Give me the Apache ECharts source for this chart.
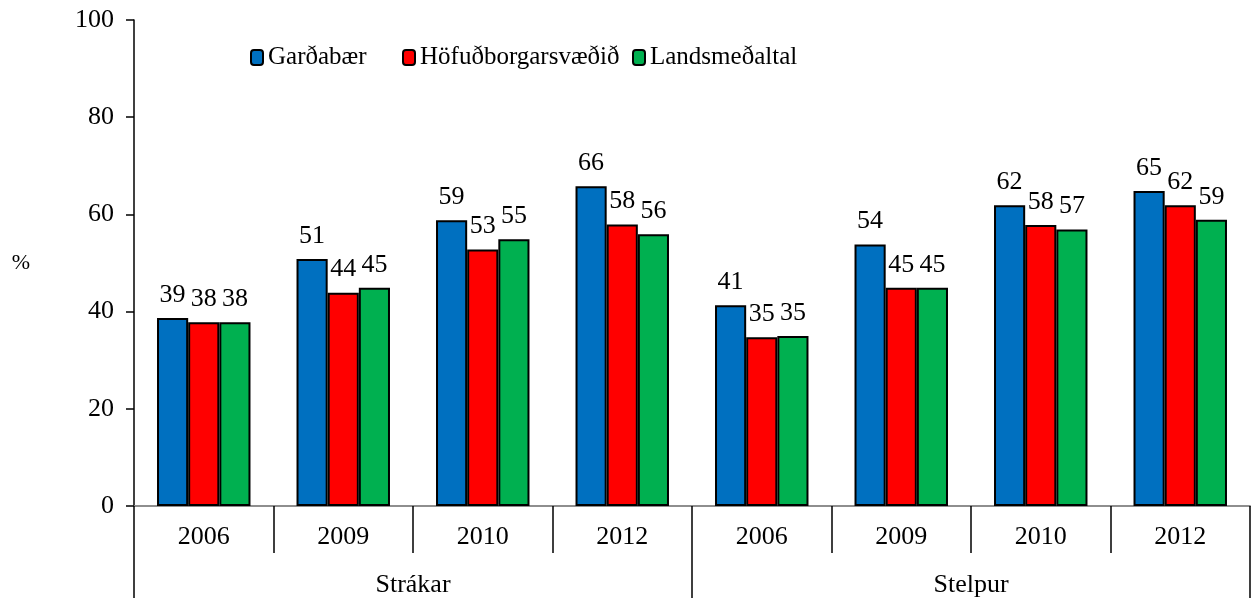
<!DOCTYPE html>
<html lang="is">
<head>
    <meta charset="UTF-8">
    <title>Garðabær</title>
    <script src="https://cdn.jsdelivr.net/npm/echarts@6/dist/echarts.min.js"></script>
</head>
<body style="margin:0">
<div id="main" style="width: 1256px;height:598px;"></div>

<script type="text/javascript">
    // gögn lesin af myndinni
    var years = ['2006', '2009', '2010', '2012', '2006', '2009', '2010', '2012'];
    var groups = ['Strákar', 'Stelpur'];
    var seriesNames = ['Garðabær', 'Höfuðborgarsvæðið', 'Landsmeðaltal'];
    var gardabaer = [38.7, 50.8, 58.8, 65.8, 41.3, 53.8, 61.9, 64.8];
    var hofudborg = [37.8, 43.9, 52.8, 57.9, 34.7, 44.9, 57.8, 61.9];
    var landsmedal = [37.8, 44.9, 54.9, 55.9, 35.0, 44.9, 56.9, 58.9];
    var colors = ['#0070C0', '#FF0000', '#00B050'];

    var font = 'Liberation Serif';
    var myChart = echarts.init(document.getElementById('main'));

    function bar(name, data, color) {
        return {
            name: name,
            type: 'bar',
            data: data,
            barGap: '0%',
            barCategoryGap: '33%',
            itemStyle: {color: color, borderColor: '#000', borderWidth: 2},
            label: {
                show: true,
                position: 'top',
                distance: 10,
                fontFamily: font,
                fontSize: 26,
                color: '#000',
                formatter: function (p) {
                    return Math.round(p.value);
                }
            }
        };
    }

    function legendAt(name, left) {
        return {
            data: [name],
            left: left,
            top: 40,
            itemWidth: 12,
            itemHeight: 15,
            selectedMode: false,
            textStyle: {fontFamily: font, fontSize: 25, color: '#000'}
        };
    }

    var option = {
        animation: false,
        textStyle: {fontFamily: font},
        grid: {left: 134, right: 6, top: 20, bottom: 92},
        legend: [
            legendAt(seriesNames[0], 245),
            legendAt(seriesNames[1], 397),
            legendAt(seriesNames[2], 627)
        ],
        xAxis: [
            {
                type: 'category',
                data: years,
                position: 'bottom',
                axisLine: {show: true, lineStyle: {color: '#888', width: 1.5}},
                axisTick: {show: true, interval: 0, length: 47, lineStyle: {color: '#000', width: 1.5}},
                axisLabel: {margin: 18, fontFamily: font, fontSize: 26, color: '#000'}
            },
            {
                type: 'category',
                data: groups,
                position: 'bottom',
                axisLine: {show: true, lineStyle: {color: '#888', width: 1.5}},
                axisTick: {show: true, interval: 0, length: 92, lineStyle: {color: '#000', width: 1.5}},
                axisLabel: {margin: 66, fontFamily: font, fontSize: 26, color: '#000'}
            }
        ],
        yAxis: {
            type: 'value',
            min: 0,
            max: 100,
            interval: 20,
            name: '%',
            nameLocation: 'middle',
            nameRotate: 0,
            nameGap: 104,
            nameTextStyle: {fontFamily: font, fontSize: 22, color: '#000'},
            splitLine: {show: false},
            axisLine: {show: true, lineStyle: {color: '#000', width: 1.5}},
            axisTick: {show: true, length: 8, lineStyle: {color: '#000', width: 1.5}},
            axisLabel: {margin: 20, fontFamily: font, fontSize: 26, color: '#000'}
        },
        series: [
            bar(seriesNames[0], gardabaer, colors[0]),
            bar(seriesNames[1], hofudborg, colors[1]),
            bar(seriesNames[2], landsmedal, colors[2])
        ]
    };

    myChart.setOption(option);
</script>
</body>
</html>
